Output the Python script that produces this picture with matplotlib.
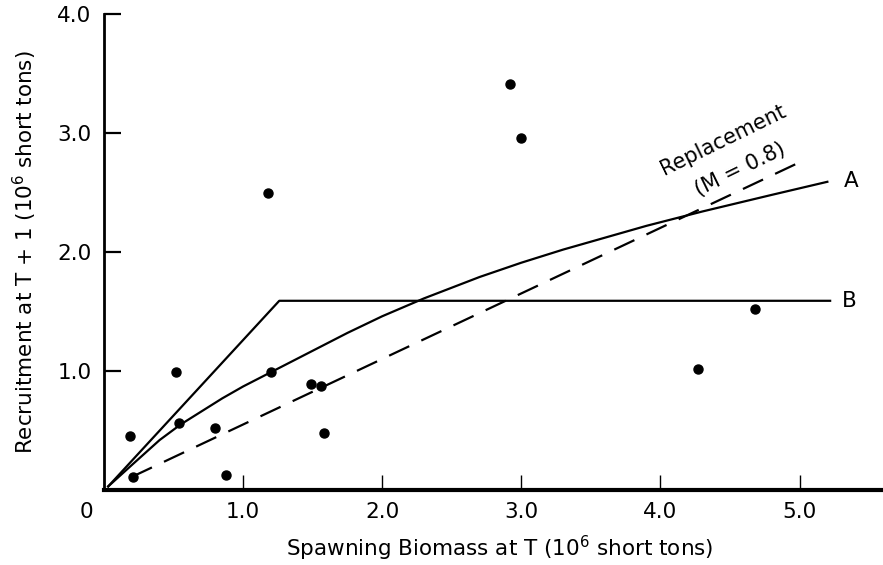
import matplotlib
matplotlib.use("Agg")
import matplotlib.pyplot as plt
import matplotlib.transforms as mtransforms

# observed spawning biomass (T) vs recruitment (T+1), 10^6 short tons
spawn = [0.19, 0.21, 0.52, 0.54, 0.80, 0.88, 1.18, 1.20, 1.49, 1.56, 1.58,
         2.92, 3.00, 4.27, 4.68]
recruit = [0.45, 0.11, 0.99, 0.56, 0.52, 0.13, 2.50, 0.99, 0.89, 0.87, 0.48,
           3.41, 2.96, 1.02, 1.52]

# curve A
a_x = [0.03, 0.2, 0.4, 0.55, 0.7, 0.85, 1.0, 1.2, 1.5, 1.75, 2.0, 2.3, 2.7,
       3.0, 3.3, 3.6, 3.9, 4.3, 4.8, 5.2]
a_y = [0.03, 0.21, 0.42, 0.55, 0.66, 0.77, 0.87, 0.99, 1.17, 1.32, 1.46, 1.61,
       1.79, 1.91, 2.02, 2.12, 2.22, 2.34, 2.48, 2.59]

# curve B (hockey stick)
b_x = [0.03, 1.26, 5.22]
b_y = [0.03, 1.59, 1.59]

# replacement line, M = 0.8
rep_x = [0.20, 5.03]
rep_y = [0.11, 2.77]

xticks = [0, 1, 2, 3, 4, 5]
xticklabels = ['0', '1.0', '2.0', '3.0', '4.0', '5.0']
yticks = [1, 2, 3, 4]
yticklabels = ['1.0', '2.0', '3.0', '4.0']

plt.rcParams['font.family'] = 'DejaVu Sans'
fs = 15.5

fig = plt.figure(figsize=(8.83, 5.65), dpi=100)
ax = fig.add_axes([104/883, 75/565, 779/883, 476/565])

ax.plot(a_x, a_y, color='black', lw=1.6)
ax.plot(b_x, b_y, color='black', lw=1.6)
ax.plot(rep_x, rep_y, color='black', lw=1.6, dashes=(10, 6))
ax.plot(spawn, recruit, 'o', color='black', ms=6.5, zorder=3)

ax.text(5.37, 2.60, 'A', fontsize=fs, ha='center', va='center')
ax.text(5.36, 1.59, 'B', fontsize=fs, ha='center', va='center')
ax.text(4.45, 2.94, 'Replacement', fontsize=15, rotation=26,
        ha='center', va='center', rotation_mode='anchor')
ax.text(4.57, 2.69, '(M = 0.8)', fontsize=15, rotation=26,
        ha='center', va='center', rotation_mode='anchor')

ax.set_xlim(0, 5.6)
ax.set_ylim(0, 4.0)
ax.spines['top'].set_visible(False)
ax.spines['right'].set_visible(False)
ax.spines['bottom'].set_linewidth(3)
ax.spines['left'].set_linewidth(2)

ax.set_xticks(xticks)
ax.set_xticklabels(xticklabels)
ax.set_yticks(yticks)
ax.set_yticklabels(yticklabels)
ax.tick_params(axis='x', direction='in', length=11, width=1, labelsize=fs, pad=9)
ax.tick_params(axis='y', direction='in', length=12, width=1.6, labelsize=fs, pad=9)
# the "0" sits left of the corner
lab0 = ax.get_xticklabels()[0]
lab0.set_transform(lab0.get_transform() + mtransforms.ScaledTranslation(-18/100, 0, fig.dpi_scale_trans))
ax.xaxis.get_major_ticks()[0].tick1line.set_visible(False)

ax.set_xlabel('Spawning Biomass at T (10$^6$ short tons)', fontsize=fs, va='center')
ax.set_ylabel('Recruitment at T + 1 (10$^6$ short tons)', fontsize=fs, va='center')
ax.xaxis.set_label_coords(0.508, -0.122)
ax.yaxis.set_label_coords(-0.101, 0.5)

fig.savefig('out.png', dpi=100)
